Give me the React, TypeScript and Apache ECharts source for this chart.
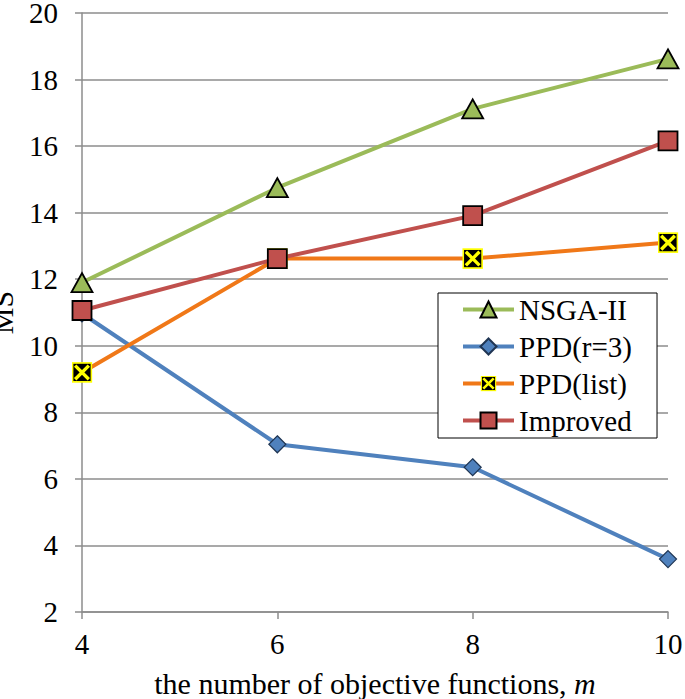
import React, { useEffect, useRef } from "react";
import * as echarts from "echarts";

const xValues = [4, 6, 8, 10];
const nsga2 = [11.9, 14.75, 17.12, 18.62];
const ppdR3 = [10.97, 7.04, 6.35, 3.59];
const ppdList = [9.2, 12.62, 12.62, 13.1];
const improved = [11.06, 12.62, 13.91, 16.16];
const seriesNames = ["NSGA-II", "PPD(r=3)", "PPD(list)", "Improved"];

const FONT = "Liberation Serif";

const xSvg =
  "<svg xmlns='http://www.w3.org/2000/svg' width='20' height='20' viewBox='0 0 20 20'>" +
  "<rect x='1' y='1' width='18' height='18' fill='black' stroke='#FFFF00' stroke-width='1.6'/>" +
  "<path d='M3.5 3.5L16.5 16.5M16.5 3.5L3.5 16.5' stroke='#FFFF00' stroke-width='3.2'/></svg>";
const xSymbol = "image://data:image/svg+xml;charset=utf-8," + encodeURIComponent(xSvg);

export default function App() {
  const ref = useRef<HTMLDivElement>(null);
  useEffect(() => {
    if (!ref.current) return;
    const chart = echarts.init(ref.current, null, { renderer: "svg" });
    const pairs = (ys: number[]) => xValues.map((x, i) => [x, ys[i]]);
    const gridColor = "#8C8C8C";
    chart.setOption({
      animation: false,
      backgroundColor: "#ffffff",
      textStyle: { fontFamily: FONT },
      grid: { left: 82, right: 17, top: 13, bottom: 87, containLabel: false, outerBoundsMode: "none" },
      legend: {
        orient: "vertical",
        left: 438,
        top: 293,
        padding: [1, 25, 2, 23],
        itemWidth: 51,
        itemHeight: 20,
        itemGap: 6,
        borderColor: "#000",
        borderWidth: 1,
        backgroundColor: "#fff",
        lineStyle: { width: 4 },
        data: seriesNames,
        textStyle: { fontFamily: FONT, fontSize: 29, color: "#000", lineHeight: 31 },
      },
      xAxis: {
        type: "value",
        min: 4,
        max: 10,
        interval: 2,
        name: "{n|the number of objective functions,} {i|m}",
        nameLocation: "middle",
        nameGap: 55,
        nameTextStyle: {
          fontFamily: FONT,
          fontSize: 30,
          color: "#000",
          lineHeight: 32,
          rich: {
            n: { fontFamily: FONT, fontSize: 30, color: "#000", lineHeight: 32 },
            i: { fontFamily: FONT, fontSize: 30, fontStyle: "italic", color: "#000", lineHeight: 32 },
          },
        },
        axisLine: { show: true, lineStyle: { color: gridColor, width: 1.5 } },
        axisTick: { show: true, length: 7, lineStyle: { color: gridColor, width: 1.5 } },
        axisLabel: { fontFamily: FONT, fontSize: 29, color: "#000", lineHeight: 31, margin: 16 },
        splitLine: { show: false },
      },
      yAxis: {
        type: "value",
        min: 2,
        max: 20,
        interval: 2,
        name: "MS",
        nameLocation: "middle",
        nameGap: 40,
        nameRotate: 90,
        nameTextStyle: { fontFamily: FONT, fontSize: 30, color: "#000", lineHeight: 32 },
        axisLine: { show: true, lineStyle: { color: gridColor, width: 1.5 } },
        axisTick: { show: true, length: 7, lineStyle: { color: gridColor, width: 1.5 } },
        axisLabel: { fontFamily: FONT, fontSize: 29, color: "#000", lineHeight: 31, margin: 24 },
        splitLine: { show: true, lineStyle: { color: gridColor, width: 1.5 } },
      },
      series: [
        {
          name: seriesNames[0],
          type: "line",
          data: pairs(nsga2),
          symbol: "triangle",
          symbolSize: [21, 19],
          lineStyle: { color: "#9BBB59", width: 4 },
          itemStyle: { color: "#9BBB59", borderColor: "#000", borderWidth: 1.8 },
        },
        {
          name: seriesNames[1],
          type: "line",
          data: pairs(ppdR3),
          symbol: "diamond",
          symbolSize: 17,
          lineStyle: { color: "#4F81BD", width: 4 },
          itemStyle: { color: "#4F81BD", borderColor: "#1F3553", borderWidth: 1.2 },
        },
        {
          name: seriesNames[2],
          type: "line",
          data: pairs(ppdList),
          symbol: xSymbol,
          symbolSize: 21,
          lineStyle: { color: "#F07818", width: 4 },
          itemStyle: { color: "#F07818" },
        },
        {
          name: seriesNames[3],
          type: "line",
          data: pairs(improved),
          symbol: "rect",
          symbolSize: 19,
          lineStyle: { color: "#C0504D", width: 4 },
          itemStyle: { color: "#C0504D", borderColor: "#000", borderWidth: 1.8 },
        },
      ],
    });
    return () => chart.dispose();
  }, []);
  return (
    <div
      ref={ref}
      style={{ position: "fixed", left: 0, top: 0, width: 685, height: 699, background: "#fff" }}
    />
  );
}
